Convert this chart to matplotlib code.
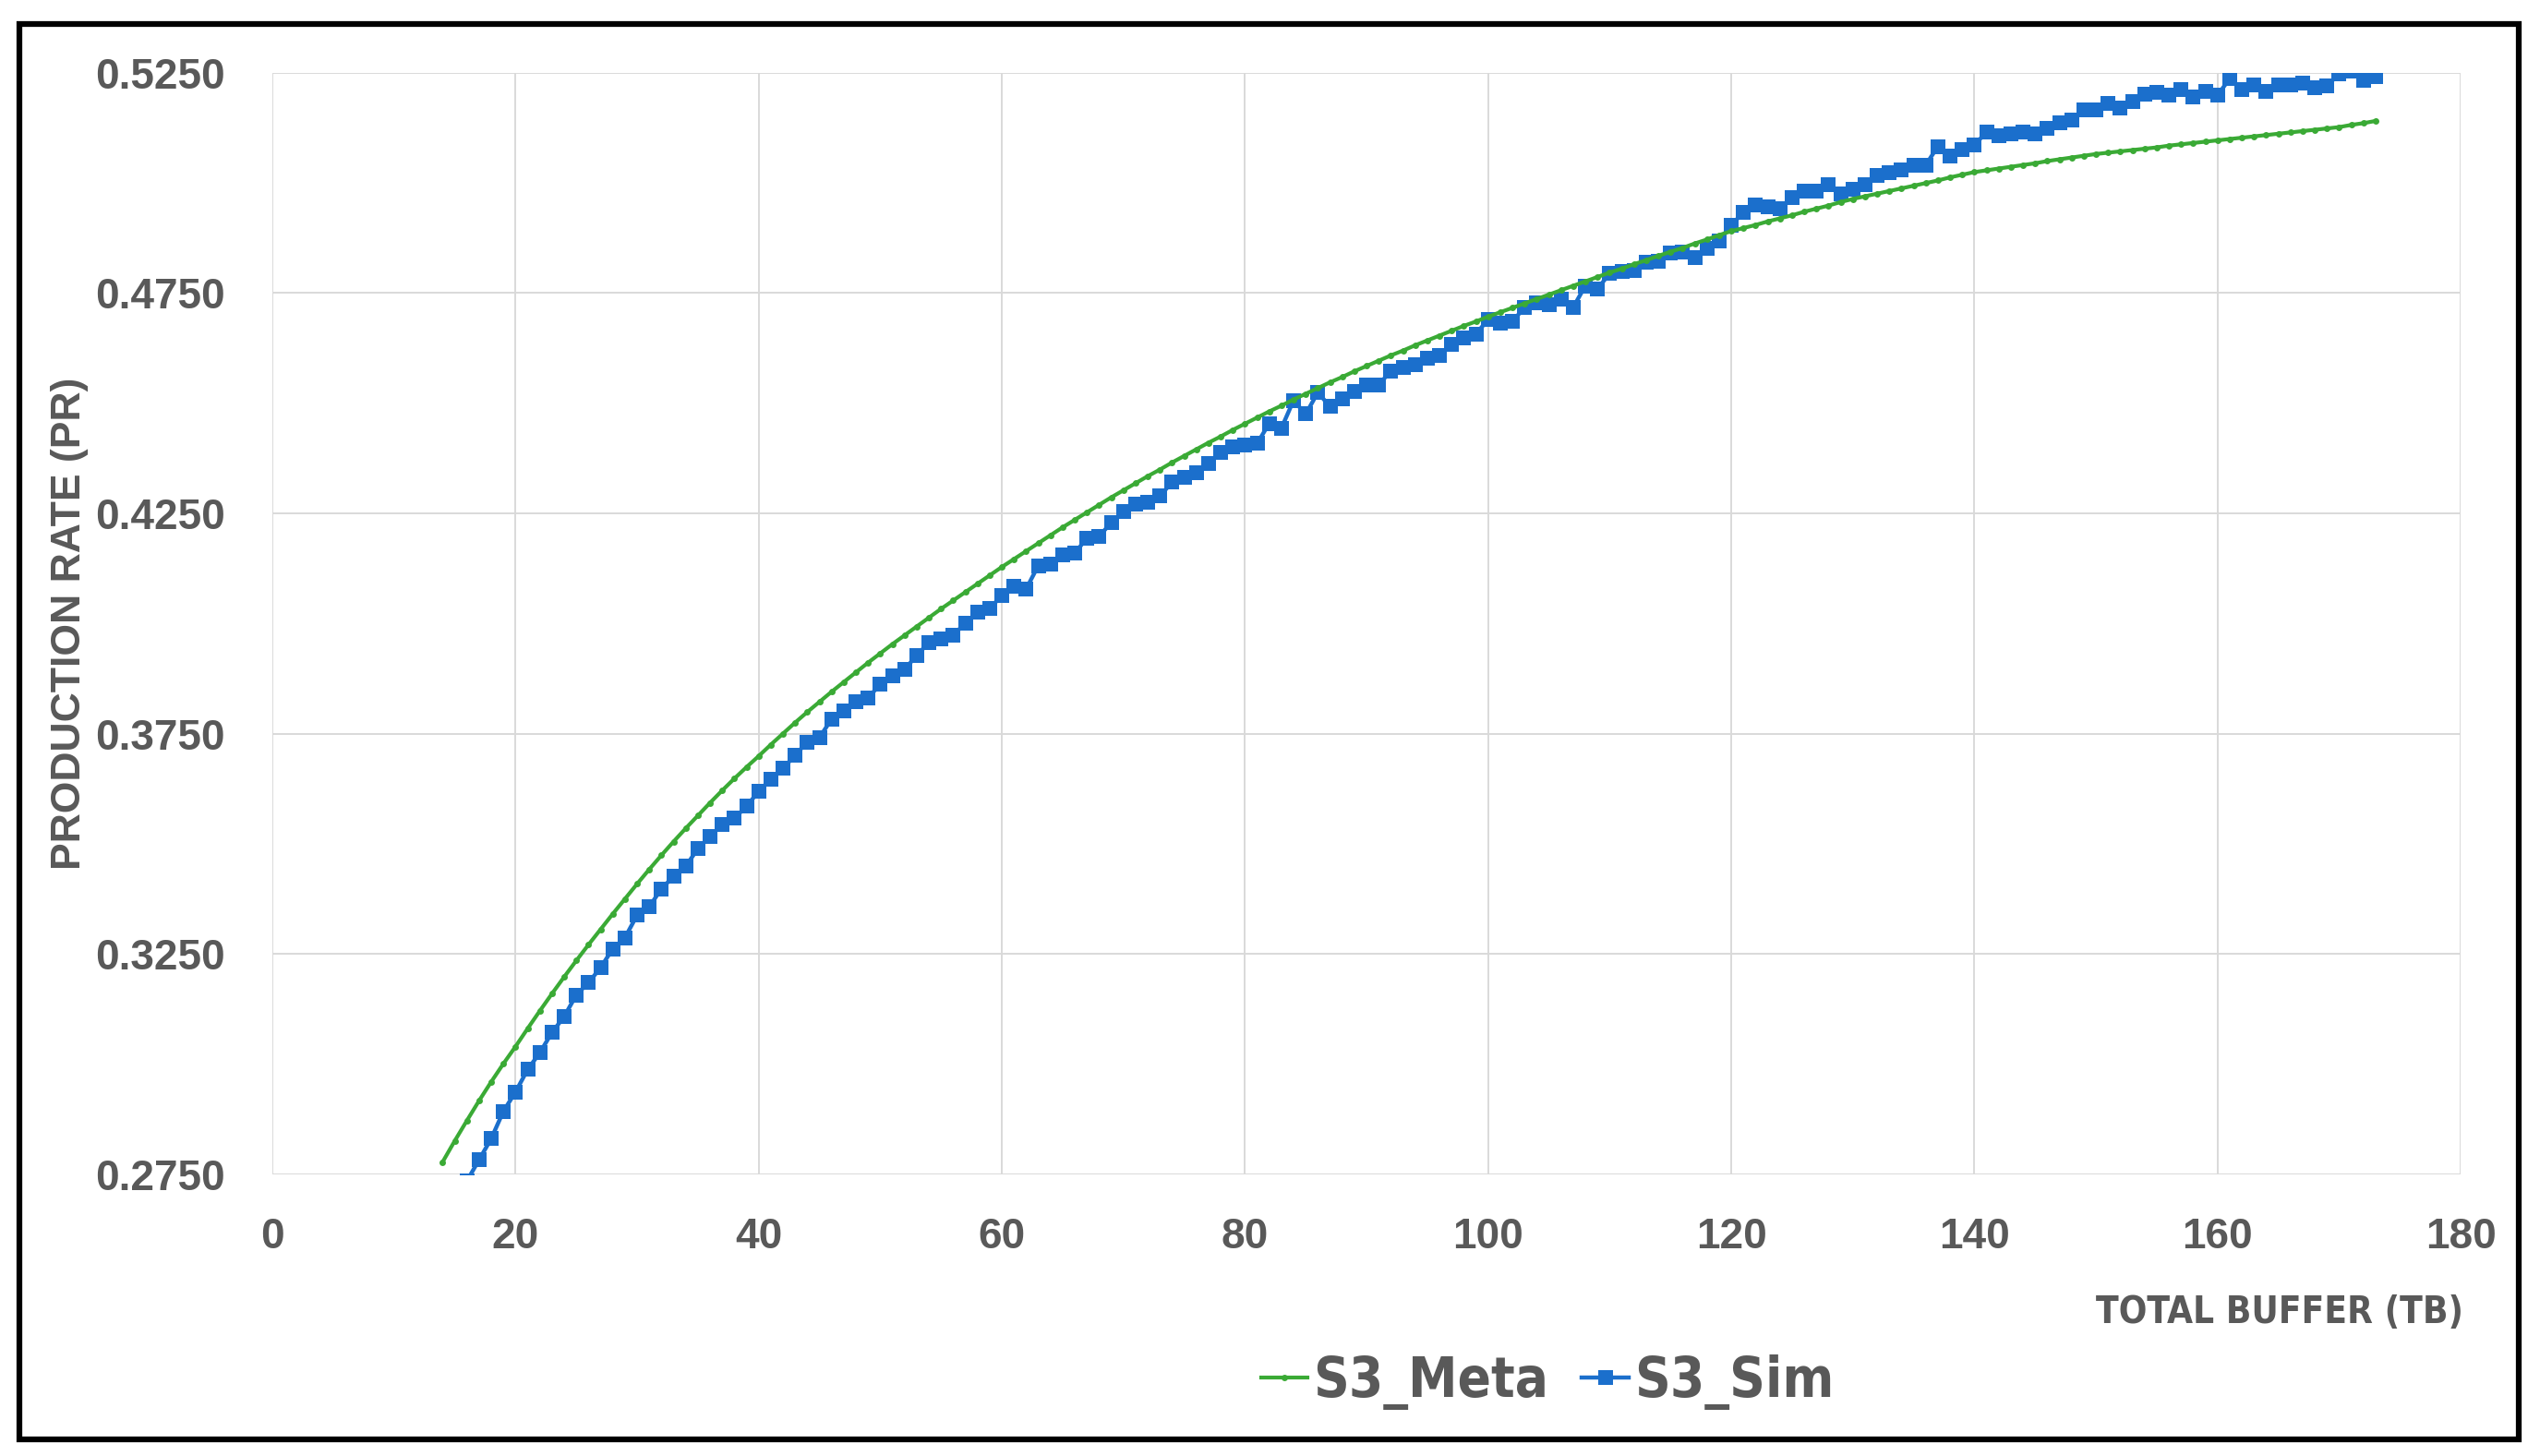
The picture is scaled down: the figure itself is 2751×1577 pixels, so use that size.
import matplotlib
matplotlib.use("Agg")
import matplotlib.pyplot as plt
from matplotlib.patches import Rectangle
from matplotlib import font_manager

# ---------------- data ----------------
meta_x = list(range(14, 174))
meta_y = [
    0.2778, 0.2826, 0.2872, 0.2917, 0.2960, 0.3001, 0.3040,  # 14-20
    0.3081, 0.3121, 0.3160, 0.3198, 0.3235, 0.3271, 0.3306, 0.3341, 0.3375, 0.3409,  # 21-30
    0.3442, 0.3474, 0.3505, 0.3535, 0.3564, 0.3593, 0.3621, 0.3648, 0.3674, 0.3699,  # 31-40
    0.3725, 0.3750, 0.3775, 0.3799, 0.3822, 0.3845, 0.3867, 0.3889, 0.3911, 0.3932,  # 41-50
    0.3953, 0.3973, 0.3993, 0.4013, 0.4033, 0.4052, 0.4071, 0.4090, 0.4109, 0.4128,  # 51-60
    0.4146, 0.4164, 0.4182, 0.4200, 0.4218, 0.4235, 0.4252, 0.4269, 0.4286, 0.4302,  # 61-70
    0.4318, 0.4334, 0.4349, 0.4365, 0.4380, 0.4395, 0.4410, 0.4424, 0.4439, 0.4453,  # 71-80
    0.4467, 0.4481, 0.4494, 0.4508, 0.4521, 0.4534, 0.4547, 0.4559, 0.4572, 0.4584,  # 81-90
    0.4596, 0.4608, 0.4619, 0.4631, 0.4642, 0.4653, 0.4664, 0.4675, 0.4685, 0.4696,  # 91-100
    0.4706, 0.4716, 0.4726, 0.4736, 0.4746, 0.4756, 0.4766, 0.4776, 0.4786, 0.4796,  # 101-110
    0.4805, 0.4815, 0.4824, 0.4834, 0.4843, 0.4852, 0.4862, 0.4871, 0.4881, 0.4890,  # 111-120
    0.4897, 0.4904, 0.4912, 0.4919, 0.4926, 0.4934, 0.4941, 0.4948, 0.4956, 0.4963,  # 121-130
    0.4969, 0.4975, 0.4981, 0.4987, 0.4993, 0.4999, 0.5005, 0.5012, 0.5018, 0.5024,  # 131-140
    0.5028, 0.5032, 0.5036, 0.5040, 0.5044, 0.5049, 0.5053, 0.5057, 0.5061, 0.5065,  # 141-150
    0.5068, 0.5071, 0.5074, 0.5077, 0.5080, 0.5084, 0.5087, 0.5090, 0.5093, 0.5096,  # 151-160
    0.5099, 0.5102, 0.5105, 0.5108, 0.5111, 0.5114, 0.5117, 0.5120, 0.5123, 0.5126,  # 161-170
    0.5131, 0.5135, 0.5140,  # 171-173
]

sim_x = list(range(16, 174))
sim_y = [
    0.2735, 0.2783, 0.2831, 0.2893, 0.2937,  # 16-20
    0.2988, 0.3026, 0.3072, 0.3108, 0.3157, 0.3185, 0.3219, 0.3262, 0.3287, 0.3338,  # 21-30
    0.3357, 0.3398, 0.3426, 0.3449, 0.3489, 0.3517, 0.3544, 0.3558, 0.3585, 0.3619,  # 31-40
    0.3647, 0.3671, 0.3701, 0.3731, 0.3741, 0.3783, 0.3801, 0.3822, 0.3831, 0.3862,  # 41-50
    0.3881, 0.3895, 0.3928, 0.3956, 0.3965, 0.3974, 0.4000, 0.4026, 0.4034, 0.4063,  # 51-60
    0.4085, 0.4078, 0.4131, 0.4134, 0.4155, 0.4159, 0.4194, 0.4197, 0.4229, 0.4253,  # 61-70
    0.4271, 0.4274, 0.4289, 0.4320, 0.4331, 0.4341, 0.4362, 0.4387, 0.4401, 0.4405,  # 71-80
    0.4408, 0.4454, 0.4443, 0.4506, 0.4475, 0.4524, 0.4492, 0.4510, 0.4527, 0.4541,  # 81-90
    0.4541, 0.4573, 0.4580, 0.4587, 0.4601, 0.4608, 0.4633, 0.4647, 0.4657, 0.4689,  # 91-100
    0.4682, 0.4685, 0.4717, 0.4728, 0.4724, 0.4735, 0.4717, 0.4766, 0.4759, 0.4794,  # 101-110
    0.4798, 0.4801, 0.4819, 0.4822, 0.4840, 0.4843, 0.4829, 0.4850, 0.4868, 0.4904,  # 111-120
    0.4932, 0.4949, 0.4946, 0.4942, 0.4967, 0.4981, 0.4981, 0.4995, 0.4974, 0.4984,  # 121-130
    0.4995, 0.5016, 0.5023, 0.5030, 0.5040, 0.5040, 0.5082, 0.5061, 0.5075, 0.5086,  # 131-140
    0.5114, 0.5107, 0.5110, 0.5114, 0.5110, 0.5124, 0.5135, 0.5142, 0.5166, 0.5166,  # 141-150
    0.5180, 0.5170, 0.5184, 0.5201, 0.5205, 0.5198, 0.5212, 0.5194, 0.5208, 0.5198,  # 151-160
    0.5236, 0.5212, 0.5222, 0.5208, 0.5222, 0.5222, 0.5226, 0.5215, 0.5219, 0.5247,  # 161-170
    0.5253, 0.5233, 0.5240,  # 171-173
]

x_ticks = [0, 20, 40, 60, 80, 100, 120, 140, 160, 180]
y_ticks = [0.2750, 0.3250, 0.3750, 0.4250, 0.4750, 0.5250]
y_tick_labels = ["0.2750", "0.3250", "0.3750", "0.4250", "0.4750", "0.5250"]
series_names = ["S3_Meta", "S3_Sim"]
x_label = "TOTAL BUFFER (TB)"
y_label = "PRODUCTION RATE (PR)"

# ---------------- style ----------------
GREEN = "#3AAA35"
BLUE = "#1B6FCC"
TEXT = "#595959"
GRID = "#D9D9D9"
REG = ["Liberation Sans", "DejaVu Sans"]

# look for a condensed bold face (Calibri-like proportions)
narrow_file = None
for f in font_manager.fontManager.ttflist:
    fn = f.fname.lower()
    if ("narrow" in fn or "condensed" in fn) and "bold" in fn and "italic" not in fn \
            and "oblique" not in fn and "mono" not in fn and "serif" not in fn:
        narrow_file = f.fname
        break

if narrow_file:
    xl_prop = font_manager.FontProperties(fname=narrow_file, size=29)
    lg_prop = font_manager.FontProperties(fname=narrow_file, size=43)
else:
    xl_prop = font_manager.FontProperties(family=REG, weight="bold", size=28)
    lg_prop = font_manager.FontProperties(family=REG, weight="bold", size=42)

W, H = 2751, 1577
fig = plt.figure(figsize=(W / 100, H / 100), dpi=100)
fig.patch.set_facecolor("white")

x0, x1 = 295, 2665
y0, y1 = 78.5, 1272
ax = fig.add_axes([x0 / W, 1 - y1 / H, (x1 - x0) / W, (y1 - y0) / H])

ax.plot(meta_x, meta_y, color=GREEN, lw=3.0, marker="o", markersize=5,
        markeredgewidth=0, label=series_names[0], zorder=3)
ax.plot(sim_x, sim_y, color=BLUE, lw=3.2, marker="s", markersize=11.5,
        markeredgewidth=0, label=series_names[1], zorder=2)

ax.set_xlim(0, 180)
ax.set_ylim(0.275, 0.525)
ax.set_xticks(x_ticks)
ax.set_yticks(y_ticks)
ax.set_yticklabels(y_tick_labels)
ax.grid(True, color=GRID, lw=1.4)
ax.set_axisbelow(True)
for s in ax.spines.values():
    s.set_visible(False)
ax.tick_params(length=0, colors=TEXT)
ax.tick_params(axis="x", pad=33)
ax.tick_params(axis="y", pad=37)
for lab in ax.get_xticklabels() + ax.get_yticklabels():
    lab.set_fontfamily(REG)
    lab.set_fontweight("bold")
    lab.set_fontsize(33)
    lab.set_color(TEXT)

ax.set_ylabel(y_label, fontsize=32, fontweight="bold", color=TEXT, family=REG)
ax.yaxis.set_label_coords((96 - x0) / (x1 - x0), 0.5)

fig.text(2668 / W, 1 - 1422 / H, x_label, ha="right", va="center",
         color=TEXT, fontproperties=xl_prop)

leg = fig.legend(loc="center", bbox_to_anchor=(1676 / W, 1 - 1497 / H), ncol=2,
                 frameon=False, handlelength=0.85, handletextpad=0.1,
                 columnspacing=0.6, prop=lg_prop)
for t in leg.get_texts():
    t.set_color(TEXT)

# outer black frame
fig.patches.append(Rectangle((21 / W, 1 - 1559 / H), (2728 - 21) / W, (1559 - 26) / H,
                             transform=fig.transFigure, fill=False, edgecolor="black",
                             lw=4.5, zorder=10))

fig.savefig("out.png", dpi=100, facecolor="white")
